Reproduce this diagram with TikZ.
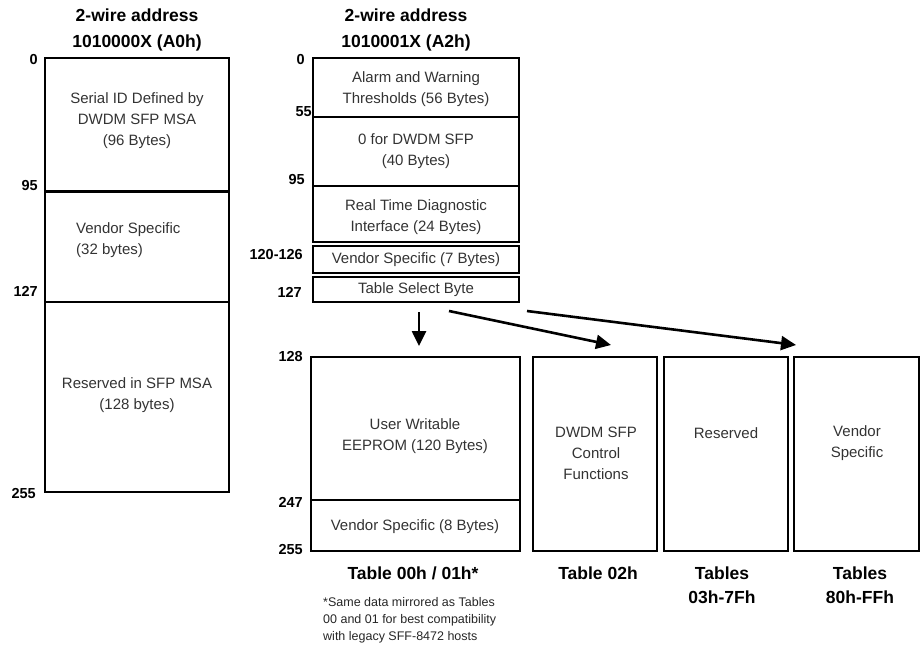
\documentclass[tikz,border=0pt]{standalone}
\usepackage{fontspec}
\setmainfont{Liberation Sans}
\usetikzlibrary{arrows.meta}
\tikzset{
  cell/.style={draw=black,line width=2.3pt},
  inner/.style={inner sep=0pt,text=black!80,font=\fontsize{15}{21}\selectfont,align=center},
  addr/.style={inner sep=0pt,anchor=east,font=\bfseries\fontsize{14.5}{16}\selectfont},
  head/.style={inner sep=0pt,align=center,font=\bfseries\fontsize{17.5}{26}\selectfont},
  note/.style={inner sep=0pt,anchor=west,align=left,text=black!85,font=\fontsize{12.5}{17}\selectfont},
  selarrow/.style={line width=2.6pt,-{Triangle[length=15pt,width=14pt]}}
}
\begin{document}
\begin{tikzpicture}[x=1pt,y=-1pt]
\useasboundingbox (0,0) rectangle (923,647);

% headers
\node[head] (hA0) at (137,30) {2-wire address\\1010000X (A0h)};
\node[head] (hA2) at (406,30) {2-wire address\\1010001X (A2h)};

% A0h map
\draw[cell] (45,58) rectangle (229,492);
\draw[cell,line width=3pt] (45,192) -- (229,192);
\draw[cell] (45,302) -- (229,302);
\node[inner] (serial) at (137,121) {Serial ID Defined by\\DWDM SFP MSA\\(96 Bytes)};
\node[inner,align=left,anchor=west] (vendA0) at (76,240) {Vendor Specific\\(32 bytes)};
\node[inner] (resA0) at (137,395) {Reserved in SFP MSA\\(128 bytes)};
\node[addr] at (38,60) {0};
\node[addr] at (38,186) {95};
\node[addr] at (38,291) {127};
\node[addr] at (36,494) {255};

% A2h map, lower half
\draw[cell] (313,58) rectangle (519,242);
\draw[cell] (313,117) -- (519,117);
\draw[cell] (313,186) -- (519,186);
\draw[cell] (313,246) rectangle (519,273);
\draw[cell] (313,277) rectangle (519,302);
\node[inner] (alarm) at (416,89) {Alarm and Warning\\Thresholds (56 Bytes)};
\node[inner] (zero) at (416,151) {0 for DWDM SFP\\(40 Bytes)};
\node[inner] (rtdi) at (416,217) {Real Time Diagnostic\\Interface (24 Bytes)};
\node[inner] (vendA2) at (416,260) {Vendor Specific (7 Bytes)};
\node[inner] (tsel) at (416,290) {Table Select Byte};
\node[addr] at (305,60) {0};
\node[addr] at (312,112) {55};
\node[addr] at (305,180) {95};
\node[addr] at (303,255) {120-126};
\node[addr] at (302,292) {127};

% A2h map, upper half (tables)
\draw[cell] (311,357) rectangle (520,551);
\draw[cell] (311,500) -- (520,500);
\draw[cell] (533,357) rectangle (657,551);
\draw[cell] (664,357) rectangle (788,551);
\draw[cell] (794,357) rectangle (919,551);
\node[inner] (user) at (415,436) {User Writable\\EEPROM (120 Bytes)};
\node[inner] (vend00) at (415,527) {Vendor Specific (8 Bytes)};
\node[inner] (ctrl) at (596,453) {DWDM SFP\\Control\\Functions};
\node[inner] (res03) at (726,433) {Reserved};
\node[inner] (vend80) at (857,443) {Vendor\\Specific};
\node[addr] at (303,357) {128};
\node[addr] at (303,502) {247};
\node[addr] at (303,550) {255};

\node[head] (cap00) at (413,573) {Table 00h / 01h*};
\node[head] (cap02) at (598,573) {Table 02h};
\node[head,font=\bfseries\fontsize{17.5}{24}\selectfont] (cap03) at (722,585) {Tables\\03h-7Fh};
\node[head,font=\bfseries\fontsize{17.5}{24}\selectfont] (cap80) at (860,585) {Tables\\80h-FFh};
\node[note] (foot) at (323,620) {*Same data mirrored as Tables\\00 and 01 for best compatibility\\with legacy SFF-8472 hosts};

% table select arrows
\coordinate (s00) at (419,312);
\coordinate (s02) at (449,311);
\coordinate (s80) at (527,311);
\coordinate (e00) at (419,346);
\coordinate (e02) at (611,345);
\coordinate (e80) at (796,345);
\draw[selarrow] (s00) -- (e00);
\draw[selarrow] (s02) -- (e02);
\draw[selarrow] (s80) -- (e80);
\end{tikzpicture}
\end{document}
